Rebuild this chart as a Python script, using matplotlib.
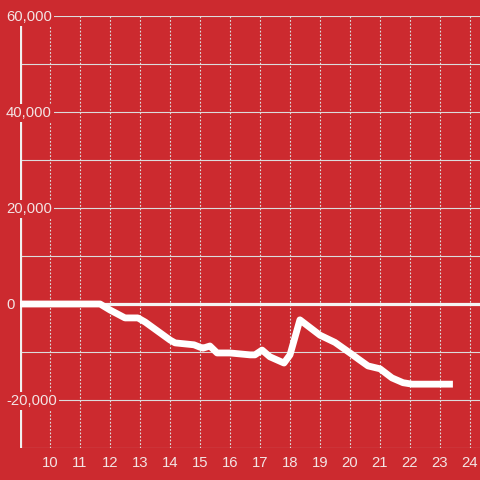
import matplotlib
matplotlib.use("Agg")
import matplotlib.pyplot as plt
import matplotlib.transforms as mtransforms

# chart data (hour of day, value)
hours = [9, 11.67, 12.0, 12.5, 12.93, 13.17, 14.0, 14.17, 14.8, 15.0, 15.1, 15.33,
         15.57, 16.0, 16.67, 16.83, 17.07, 17.33, 17.8, 18.0, 18.33, 19.0, 19.5,
         20.0, 20.33, 20.6, 21.0, 21.4, 21.77, 22.07, 23.43]
values = [0, 0, -1250, -2900, -2900, -3750, -7500, -8100, -8500, -9000, -9200, -8750,
          -10200, -10200, -10600, -10600, -9600, -11000, -12300, -10600, -3300, -6500,
          -8000, -10200, -11700, -12900, -13500, -15400, -16400, -16700, -16700]
x_ticks = list(range(10, 25))
y_labels = [60000, 40000, 20000, 0, -20000]

red = '#cc2a2f'
txt = '#f3e4e4'
grid = '#dcdcdc'
plt.rcParams['font.family'] = ['Liberation Sans', 'DejaVu Sans']

fig = plt.figure(figsize=(4.8, 4.8), dpi=100, facecolor=red)
ax = fig.add_axes([20 / 480, 32 / 480, 460 / 480, 432 / 480])
ax.set_facecolor(red)
ax.set_xlim(9, 9 + 460 / 30)
ax.set_ylim(-30000, 60000)
for s in ax.spines.values():
    s.set_visible(False)

# grid
for v in range(-30000, 60001, 10000):
    if v != 0:
        ax.axhline(v, color=grid, lw=0.8, zorder=1)
for h in x_ticks:
    ax.axvline(h, color=grid, lw=0.8, ls=(0, (1.6, 1.6)), zorder=1)
ax.axhline(0, color='#f4f4f4', lw=2.3, zorder=2)
ax.axvline(9, color='#f0f0f0', lw=2.3, zorder=2)

ax.plot(hours, values, color='white', lw=4.9, solid_joinstyle='round',
        solid_capstyle='butt', zorder=3)

ax.set_xticks(x_ticks)
ax.set_xticklabels([str(h) for h in x_ticks])
ax.set_yticks([])
ax.tick_params(axis='x', length=0, pad=6, labelsize=10.7, labelcolor=txt)

trans = mtransforms.blended_transform_factory(ax.transAxes, ax.transData)
for v in y_labels:
    ax.text(-14 / 460, v - 250, f'{v:,}', transform=trans, ha='left', va='center',
            fontsize=10.7, color=txt, clip_on=False, zorder=5,
            bbox=dict(facecolor=red, edgecolor='none', pad=1.5))

fig.savefig('out.png', dpi=100, facecolor=red)
